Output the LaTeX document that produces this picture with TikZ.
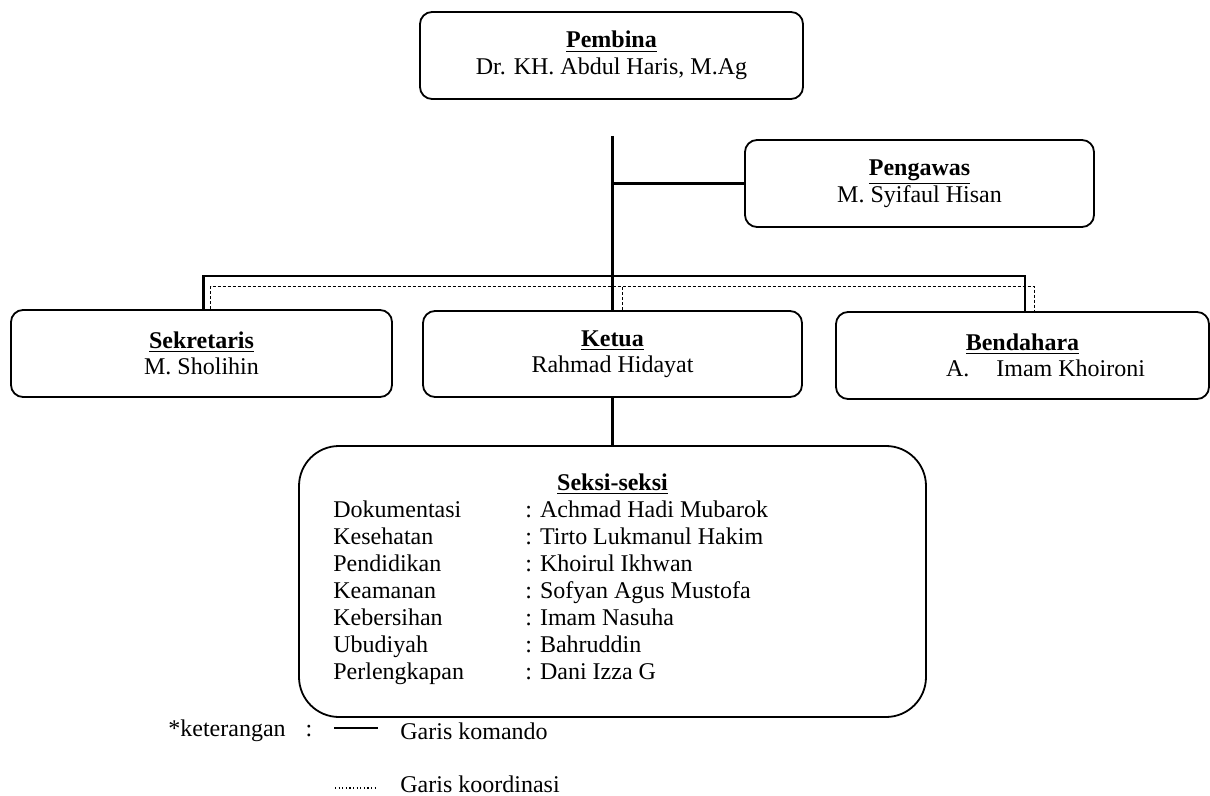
\documentclass[tikz,border=0pt]{standalone}
\usepackage{fontspec}
\setmainfont{Liberation Serif}
\usepackage{tikz}
\usetikzlibrary{positioning}

\begin{document}
\begin{tikzpicture}[x=0.5pt,y=-0.5pt,
    every node/.style={inner sep=0pt, font=\fontsize{12}{13.25}\selectfont},
    unitbox/.style={draw=black, line width=0.9pt, rounded corners=6pt,
      minimum height=43.5pt, align=center},
    cmdline/.style={draw=black, line width=1.3pt},
    coordline/.style={draw=black, line width=0.5pt, dash pattern=on 1.5pt off 1pt}]
      \useasboundingbox (0,0) rectangle (1210,796);
      % boxes
      \node [unitbox, minimum width=191.5pt] (pembina) at (611.5,55.5)
        {\textbf{\underline{Pembina}}\\Dr. KH. Abdul Haris, M.Ag};
      \node [unitbox, minimum width=174.5pt] (pengawas) at (919.5,183.5)
        {\textbf{\underline{Pengawas}}\\M. Syifaul Hisan};
      \node [unitbox, minimum width=190.5pt] (sekretaris) at (201.5,353.5)
        {\textbf{\underline{Sekretaris}}\\M. Sholihin};
      \node [unitbox, minimum width=189.5pt, minimum height=43pt] (ketua) at (612.5,354)
        {\textbf{\underline{Ketua}}\\Rahmad Hidayat};
      \node [unitbox, minimum width=186.5pt] (bendahara) at (1022.5,355.5)
        {\textbf{\underline{Bendahara}}\\\hspace*{23pt}A.\hspace{13.5pt}Imam Khoironi};
      \node [unitbox, rounded corners=20pt, minimum width=313.5pt, minimum height=135.5pt] (seksi) at (612.5,581.5) {};
      \node (seksititle) at (612.5,484) {\textbf{\underline{Seksi-seksi}}};
      \node [anchor=west] (seksilist) at (333,593) {\fontsize{12}{13.5}\selectfont
        \begin{tabular}{@{}p{96pt}@{}l@{}}
          Dokumentasi & : Achmad Hadi Mubarok\\
          Kesehatan & : Tirto Lukmanul Hakim\\
          Pendidikan & : Khoirul Ikhwan\\
          Keamanan & : Sofyan Agus Mustofa\\
          Kebersihan & : Imam Nasuha\\
          Ubudiyah & : Bahruddin\\
          Perlengkapan & : Dani Izza G
        \end{tabular}};
      % garis komando
      \coordinate (trunk) at (612.5,136);
      \draw [cmdline] (trunk) -- (ketua.north);
      \draw [cmdline] (pengawas.west) -- (pengawas.west -| trunk);
      \draw [cmdline] ([xshift=1pt]sekretaris.north) -- ++(0,-33) -| ([xshift=1.25pt]bendahara.north);
      \draw [cmdline] (ketua.south) -- (seksi.north);
      % garis koordinasi
      \draw [coordline] ([xshift=4.5pt]sekretaris.north) -- ++(0,-23) -| ([xshift=5.75pt]bendahara.north);
      \draw [coordline] ([xshift=5pt]ketua.north) -- ++(0,-24);
      % keterangan
      \node [anchor=west] (ket) at (168,731) {*keterangan\hspace{10pt}:};
      \coordinate (komandoA) at (334,728);
      \coordinate (komandoB) at (378,728);
      \draw [cmdline] (komandoA) -- (komandoB);
      \node [anchor=west] (komando) at (400,731) {Garis komando};
      \coordinate (koordA) at (335,788);
      \coordinate (koordB) at (378,788);
      \draw [black, line width=0.6pt, dash pattern=on 0.6pt off 1.2pt] (koordA) -- (koordB);
      \node [anchor=west] (koordinasi) at (400,784) {Garis koordinasi};
\end{tikzpicture}
\end{document}
